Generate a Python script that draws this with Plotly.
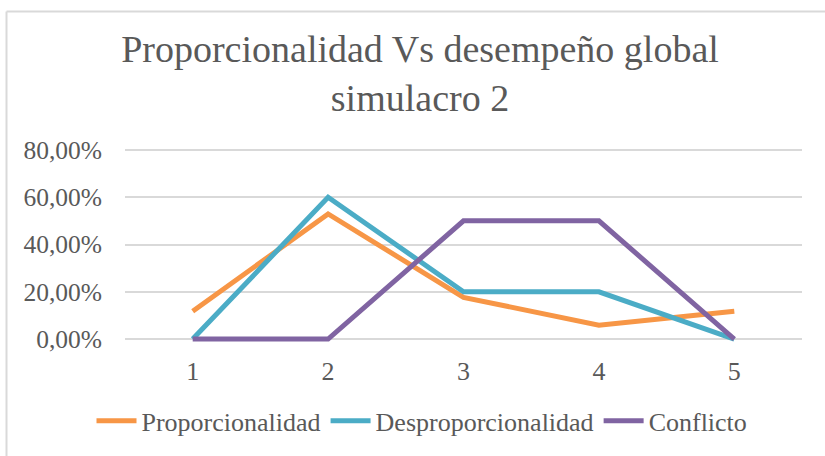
import plotly.graph_objects as go

# Simulacro 2 results by group
grupos = [1, 2, 3, 4, 5]
proporcionalidad = [2 / 17, 9 / 17, 3 / 17, 1 / 17, 2 / 17]
desproporcionalidad = [0.0, 0.60, 0.20, 0.20, 0.0]
conflicto = [0.0, 0.0, 0.50, 0.50, 0.0]

series = [
    ("Proporcionalidad", proporcionalidad, "#F79646"),
    ("Desproporcionalidad", desproporcionalidad, "#4BACC6"),
    ("Conflicto", conflicto, "#8064A2"),
]

FONT = "Liberation Serif"
GREY = "#595959"
BORDER = "#D9D9D9"

W, H = 825, 456
L, R, T, B = 125, 23, 144, 108
PW, PH = W - L - R, H - T - B


def px_x(p):
    return (p - L) / PW


def px_y(p):
    return (H - B - p) / PH


fig = go.Figure()
for nombre, valores, color in series:
    fig.add_trace(go.Scatter(
        x=grupos, y=valores, name=nombre, mode="lines",
        line=dict(color=color, width=5, shape="linear"),
        hovertemplate="%{y:.2%}<extra>" + nombre + "</extra>",
    ))

fig.update_layout(
    width=W, height=H,
    margin=dict(l=L, r=R, t=T, b=B),
    paper_bgcolor="white", plot_bgcolor="white",
    separators=",.",
    font=dict(family=FONT, size=24, color=GREY),
    title=dict(
        text="Proporcionalidad Vs desempeño global<br>simulacro 2",
        font=dict(family=FONT, size=38, color=GREY),
        x=420 / W, xanchor="center", xref="container",
        y=1 - 62 / H, yanchor="top", yref="container",
    ),
    xaxis=dict(
        range=[0.5, 5.5], tickvals=grupos, ticktext=[str(g) for g in grupos],
        showgrid=False, zeroline=False, showline=False,
        ticks="", ticklabelstandoff=8,
        tickfont=dict(family=FONT, size=26, color=GREY),
    ),
    yaxis=dict(
        range=[-0.025, 0.825], tickvals=[0, 0.2, 0.4, 0.6, 0.8],
        tickformat=".2%", showgrid=True, gridcolor=BORDER, gridwidth=1.5,
        zeroline=False, showline=False, ticks="", ticklabelstandoff=22,
        tickfont=dict(family=FONT, size=25.5, color=GREY),
    ),
    showlegend=True,
    legend=dict(
        orientation="h", x=px_x(422), xanchor="center", y=px_y(425), yanchor="middle",
        font=dict(family=FONT, size=26, color=GREY),
        itemwidth=40, tracegroupgap=0, bgcolor="rgba(0,0,0,0)",
    ),
    shapes=[
        dict(type="line", xref="paper", yref="paper",
             x0=px_x(6.5), x1=px_x(W + 5), y0=px_y(9.5), y1=px_y(9.5),
             line=dict(color=BORDER, width=2)),
        dict(type="line", xref="paper", yref="paper",
             x0=px_x(6.5), x1=px_x(6.5), y0=px_y(9.5), y1=px_y(H + 5),
             line=dict(color=BORDER, width=2)),
    ],
)

fig.write_html("out.html")
